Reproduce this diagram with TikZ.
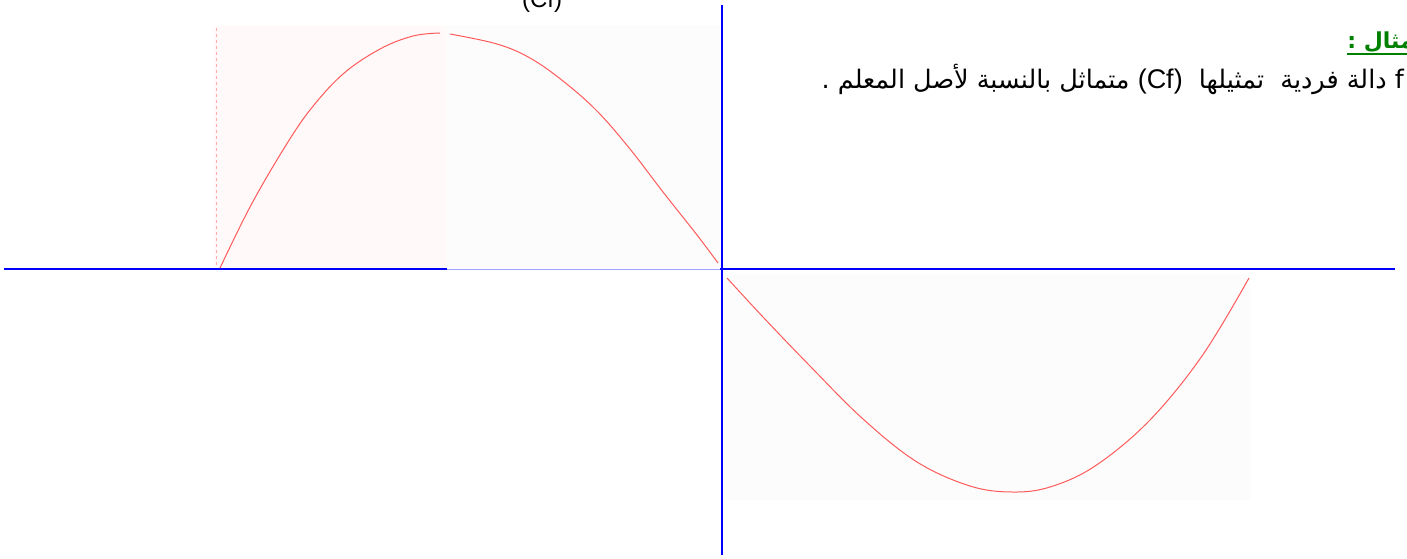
\documentclass[tikz,border=0pt]{standalone}
\usepackage{fontspec}
\setmainfont{Liberation Sans}
\newfontfamily\arabicfont[Script=Arabic]{DejaVu Sans}
\TeXXeTstate=1
\definecolor{axisblue}{RGB}{0,0,255}
\definecolor{lightaxis}{RGB}{160,160,255}
\definecolor{curvered}{RGB}{255,90,90}
\definecolor{pinkfill}{RGB}{255,249,249}
\definecolor{grayfill}{RGB}{252,252,252}
\definecolor{textgreen}{RGB}{0,128,0}
\tikzset{
  axis/.style={draw=axisblue, line width=2.4pt},
  curve/.style={draw=curvered, line width=1pt},
  arabictext/.style={inner sep=0pt, font=\arabicfont\fontsize{25.5}{30}\selectfont},
}
\begin{document}
\begin{tikzpicture}[x=1pt,y=-1pt]
\useasboundingbox (0,0) rectangle (1407,559);
\clip (0,0) rectangle (1407,559);
% background patches
\fill[pinkfill] (214,26) rectangle (446,268);
\fill[grayfill] (446,25) rectangle (720,268);
\fill[grayfill] (722,274) rectangle (1250,500);
\draw[curvered!50, dashed, line width=0.8pt] (216.5,28) -- (216.5,268);
% axes
\coordinate (xl) at (4,269);
\coordinate (xm) at (447,269);
\coordinate (xo) at (720,269);
\coordinate (xr) at (1395,269);
\coordinate (yt) at (722,5);
\coordinate (yb) at (722,555);
\draw[axis] (xl) -- (xm);
\draw[draw=lightaxis, line width=1pt] (xm) -- (xo);
\draw[axis] (xo) -- (xr);
\draw[axis] (yt) -- (yb);
% curves
\draw[curve] plot[smooth, tension=0.6] coordinates {(220,268) (250,207) (283,150) (310,110) (343,74) (380,49) (413,36) (440,33)};
\draw[curve] plot[smooth, tension=0.6] coordinates {(450,34) (497,44) (530,58) (563,81) (597,111) (630,149) (663,192) (697,235) (718,263)};
\draw[curve] plot[smooth, tension=0.6] coordinates {(727,278) (763,317) (809,365) (863,419) (917,462) (970,486) (1012,492) (1050,487) (1095,466) (1149,421) (1202,356) (1249,278)};
% texts
\node[anchor=base, inner sep=0pt, font=\fontsize{24}{28}\selectfont] (topcf) at (542,8) {(Cf)};
\node[arabictext, anchor=base east, text=textgreen, font=\arabicfont\bfseries\fontsize{22}{26}\selectfont] (head) at (1414,49) {\beginR مثال :\endR};
\draw[textgreen, line width=1.6pt] ([yshift=-5pt]head.base west) -- ([yshift=-5pt]head.base east);
\node[arabictext, anchor=base east] (line1) at (1404,89) {\beginR f دالة فردية \ تمثيلها \ \beginL{\rmfamily\fontsize{27}{32}\selectfont (Cf)}\endL{} متماثل بالنسبة لأصل المعلم .\endR};
\end{tikzpicture}
\end{document}
